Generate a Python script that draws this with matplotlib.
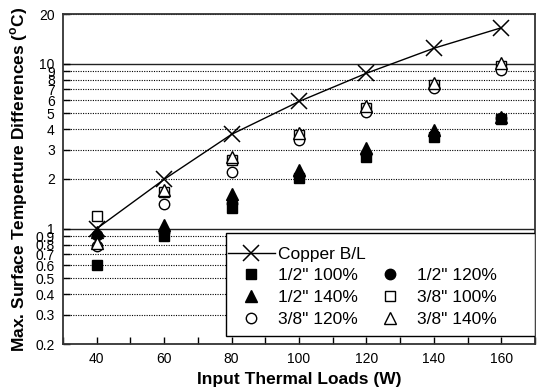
import matplotlib
matplotlib.use("Agg")
import matplotlib.pyplot as plt
from matplotlib.lines import Line2D
from matplotlib.patches import Rectangle
from matplotlib.ticker import FixedLocator, NullFormatter, FixedFormatter

plt.rcParams['font.family'] = ['Liberation Sans', 'DejaVu Sans']
plt.rcParams['mathtext.fontset'] = 'custom'
plt.rcParams['mathtext.rm'] = 'Liberation Sans:bold'
plt.rcParams['mathtext.bf'] = 'Liberation Sans:bold'

loads = [40, 60, 80, 100, 120, 140, 160]
copper = [1.0, 1.99, 3.73, 5.9, 8.75, 12.4, 16.5]
half_100 = [0.60, 0.90, 1.33, 2.02, 2.73, 3.61, 4.62]
half_120 = [0.92, 0.95, 1.43, 2.10, 2.85, 3.70, 4.67]
half_140 = [0.95, 1.05, 1.62, 2.27, 3.07, 3.96, 4.78]
three_100 = [1.20, 1.67, 2.60, 3.70, 5.36, 7.42, 9.68]
three_120 = [0.78, 1.41, 2.21, 3.45, 5.12, 7.09, 9.16]
three_140 = [0.82, 1.72, 2.73, 3.82, 5.54, 7.60, 10.05]

y_major = [1, 10]
y_minor = [0.2, 0.3, 0.4, 0.5, 0.6, 0.7, 0.8, 0.9, 2, 3, 4, 5, 6, 7, 8, 9, 20]
y_minor_labels = ['0.2', '0.3', '0.4', '0.5', '0.6', '0.7', '0.8', '0.9',
                  '2', '3', '4', '5', '6', '7', '8', '9', '20']
x_major = [40, 60, 80, 100, 120, 140, 160]
x_minor = [30, 50, 70, 90, 110, 130, 150, 170]

fig = plt.figure(figsize=(5.37, 3.90), dpi=100)
ax = fig.add_axes([63/537, 1-344/390, (535-63)/537, (344-14)/390])

ax.set_yscale('log')
ax.set_xlim(30, 170)
ax.set_ylim(0.2, 20)

ms = 7.5
ax.plot(loads, copper, color='black', lw=1.0, marker='x', ms=12, mew=1.1, zorder=6,
        label='Copper B/L')
h1, = ax.plot(loads, half_100, ls='none', marker='s', ms=ms, mfc='black', mec='black', zorder=5, label='1/2" 100%')
h2, = ax.plot(loads, half_120, ls='none', marker='o', ms=ms, mfc='black', mec='black', zorder=5, label='1/2" 120%')
h3, = ax.plot(loads, half_140, ls='none', marker='^', ms=ms+0.5, mfc='black', mec='black', zorder=5, label='1/2" 140%')
h4, = ax.plot(loads, three_100, ls='none', marker='s', ms=ms, mfc='white', mec='black', mew=1, zorder=5, label='3/8" 100%')
h5, = ax.plot(loads, three_120, ls='none', marker='o', ms=ms, mfc='white', mec='black', mew=1, zorder=5, label='3/8" 120%')
h6, = ax.plot(loads, three_140, ls='none', marker='^', ms=ms+0.5, mfc='white', mec='black', mew=1, zorder=5, label='3/8" 140%')

ax.yaxis.set_major_locator(FixedLocator(y_major))
ax.yaxis.set_major_formatter(FixedFormatter(['1', '10']))
ax.yaxis.set_minor_locator(FixedLocator(y_minor))
ax.yaxis.set_minor_formatter(FixedFormatter(y_minor_labels))
ax.xaxis.set_major_locator(FixedLocator(x_major))
ax.xaxis.set_minor_locator(FixedLocator(x_minor))
ax.xaxis.set_minor_formatter(NullFormatter())

ax.tick_params(axis='both', which='both', direction='in', labelsize=10, length=5,
               width=1, color='black')
ax.tick_params(axis='y', which='both', pad=6)
ax.tick_params(axis='x', which='both', pad=6)

ax.grid(True, which='major', axis='y', color='#222222', lw=1.0, ls='-')
ax.grid(True, which='minor', axis='y', color='black', lw=0.8, ls=(0, (1, 1.2)))
ax.set_axisbelow(True)

for s in ax.spines.values():
    s.set_linewidth(1.3)
    s.set_color('#333333')

ax.set_xlabel('Input Thermal Loads (W)', fontsize=12.5, fontweight='bold', labelpad=4)
ax.set_ylabel(r'Max. Surface Temperture Differences ($^{\mathrm{o}}$C)', fontsize=12.5,
              fontweight='bold', labelpad=4)

# legend frame
ax.add_patch(Rectangle((0.345, 0.024), 0.655, 0.312, transform=ax.transAxes,
                       facecolor='white', edgecolor='black', lw=1.0, zorder=7))
blank = Line2D([], [], ls='none', marker='none')
handles = [ax.lines[0], h1, h3, h5, blank, h2, h4, h6]
labels = ['Copper B/L', '1/2" 100%', '1/2" 140%', '3/8" 120%', '', '1/2" 120%', '3/8" 100%', '3/8" 140%']
leg = ax.legend(handles, labels, ncol=2, loc='center left', bbox_to_anchor=(0.3496, 0.1736),
                frameon=False, fontsize=12.5, borderpad=0, borderaxespad=0,
                handlelength=2.7, handletextpad=0.2, columnspacing=0.05,
                labelspacing=0.38, numpoints=1)
leg.set_zorder(8)

fig.savefig('out.png', dpi=100)
